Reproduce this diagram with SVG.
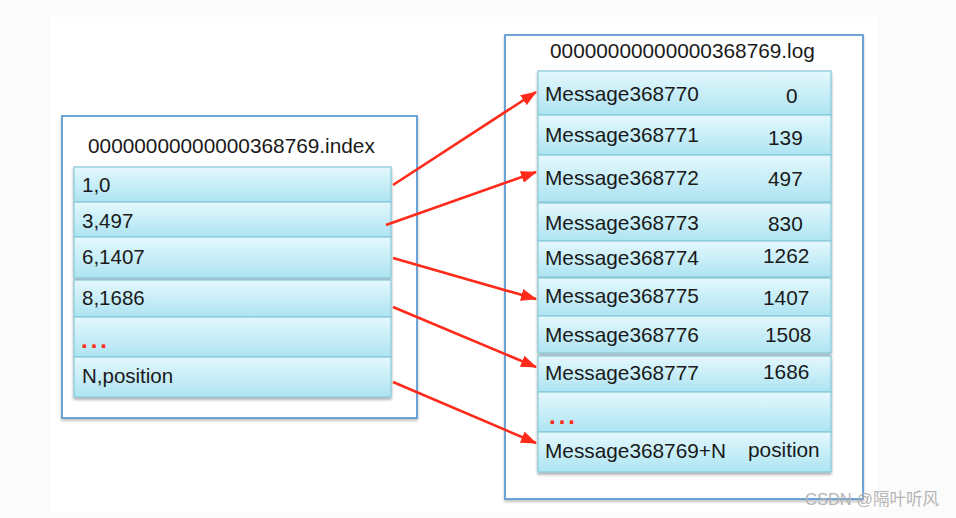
<svg xmlns="http://www.w3.org/2000/svg" width="956" height="518" viewBox="0 0 956 518">
<defs>
<linearGradient id="cell" x1="0" y1="0" x2="0" y2="1">
<stop offset="0" stop-color="#e4f8fd"/>
<stop offset="1" stop-color="#ade4f2"/>
</linearGradient>
<filter id="sh" x="-5%" y="-5%" width="110%" height="120%">
<feGaussianBlur in="SourceAlpha" stdDeviation="1.5"/>
<feOffset dx="0" dy="2" result="b"/>
<feComponentTransfer><feFuncA type="linear" slope="0.35"/></feComponentTransfer>
<feMerge><feMergeNode/><feMergeNode in="SourceGraphic"/></feMerge>
</filter>
<filter id="shb" x="-5%" y="-5%" width="110%" height="110%">
<feGaussianBlur in="SourceAlpha" stdDeviation="1.5"/>
<feOffset dx="0" dy="1.5" result="b"/>
<feComponentTransfer><feFuncA type="linear" slope="0.25"/></feComponentTransfer>
<feMerge><feMergeNode/><feMergeNode in="SourceGraphic"/></feMerge>
</filter>
<marker id="ah" viewBox="0 0 16 12" refX="15" refY="6" markerWidth="16" markerHeight="12" markerUnits="userSpaceOnUse" orient="auto">
<path d="M0,0 L16,6 L0,12 Z" fill="#ff2a1a"/>
</marker>
</defs>
<style>
.outer{fill:#ffffff;stroke:#5f9bd3;stroke-width:1.8}
.cell{fill:url(#cell);stroke:#86c8d9;stroke-width:1.2}
.t{font-family:"Liberation Sans",Arial,sans-serif;font-size:20.5px;fill:#1a1a1a}
.m{font-family:"Liberation Sans",Arial,sans-serif;font-size:20.8px;fill:#1a1a1a}
.title{font-family:"Liberation Sans",Arial,sans-serif;font-size:20.8px;fill:#1a1a1a}
.dots{font-family:"Liberation Sans",Arial,sans-serif;font-size:24px;font-weight:bold;fill:#ff2a1a;letter-spacing:3px}
.arrow{stroke:#ff2a1a;stroke-width:2.6;fill:none;marker-end:url(#ah)}
.wm{font-family:"Liberation Sans","Noto Sans CJK SC",sans-serif;font-size:16.5px;fill:#b4b4b4}
</style>
<rect x="0" y="0" width="956" height="518" fill="#fbfbfb"/>
<rect x="50" y="17" width="828" height="496" fill="#ffffff"/>

<g id="index-file">
<rect class="outer" x="62" y="116" width="355" height="302" filter="url(#shb)"/>
<text class="title" x="88" y="153">00000000000000368769.index</text>
<g id="index-group1" filter="url(#sh)">
<rect class="cell" x="74" y="167" width="317" height="35"/>
<rect class="cell" x="74" y="202" width="317" height="35"/>
<rect class="cell" x="74" y="237" width="317" height="41"/>
</g>
<g id="index-group2" filter="url(#sh)">
<rect class="cell" x="74" y="280" width="317" height="37"/>
<rect class="cell" x="74" y="317" width="317" height="40"/>
<rect class="cell" x="74" y="357" width="317" height="40"/>
</g>
<text class="t" x="82" y="192">1,0</text>
<text class="t" x="82" y="228">3,497</text>
<text class="t" x="82" y="264">6,1407</text>
<text class="t" x="82" y="305">8,1686</text>
<text class="dots" x="81" y="348">...</text>
<text class="t" x="82" y="383">N,position</text>
</g>

<g id="log-file">
<rect class="outer" x="505" y="35" width="358" height="464" filter="url(#shb)"/>
<text class="title" x="550" y="58">00000000000000368769.log</text>
<g id="log-group1" filter="url(#sh)">
<rect class="cell" x="538" y="71" width="293" height="44"/>
<rect class="cell" x="538" y="115" width="293" height="40"/>
<rect class="cell" x="538" y="155" width="293" height="47"/>
</g>
<g id="log-group2" filter="url(#sh)">
<rect class="cell" x="538" y="203" width="293" height="38"/>
<rect class="cell" x="538" y="241" width="293" height="36"/>
</g>
<g id="log-group3" filter="url(#sh)">
<rect class="cell" x="538" y="278" width="293" height="38"/>
<rect class="cell" x="538" y="316" width="293" height="37"/>
</g>
<g id="log-group4" filter="url(#sh)">
<rect class="cell" x="538" y="356" width="293" height="36"/>
<rect class="cell" x="538" y="392" width="293" height="40"/>
<rect class="cell" x="538" y="432" width="293" height="40"/>
</g>
<text class="m" x="545" y="101">Message368770</text><text class="m" x="786" y="103">0</text>
<text class="m" x="545" y="142">Message368771</text><text class="m" x="768" y="145">139</text>
<text class="m" x="545" y="185">Message368772</text><text class="m" x="768" y="186">497</text>
<text class="m" x="545" y="230">Message368773</text><text class="m" x="768" y="231">830</text>
<text class="m" x="545" y="265">Message368774</text><text class="m" x="763" y="263">1262</text>
<text class="m" x="545" y="303">Message368775</text><text class="m" x="763" y="305">1407</text>
<text class="m" x="545" y="342">Message368776</text><text class="m" x="765" y="342">1508</text>
<text class="m" x="545" y="380">Message368777</text><text class="m" x="763" y="379">1686</text>
<text class="dots" x="549" y="424">...</text>
<text class="m" x="545" y="458">Message368769+N</text><text class="m" x="748" y="457">position</text>
</g>

<g id="connectors">
<line class="arrow" x1="393" y1="185" x2="536" y2="92"/>
<line class="arrow" x1="386" y1="225" x2="536" y2="172"/>
<line class="arrow" x1="393" y1="258" x2="536" y2="299"/>
<line class="arrow" x1="393" y1="307" x2="536" y2="367"/>
<line class="arrow" x1="393" y1="382" x2="536" y2="443"/>
</g>

<text class="wm" x="805" y="505">CSDN @隔叶听风</text>
</svg>
